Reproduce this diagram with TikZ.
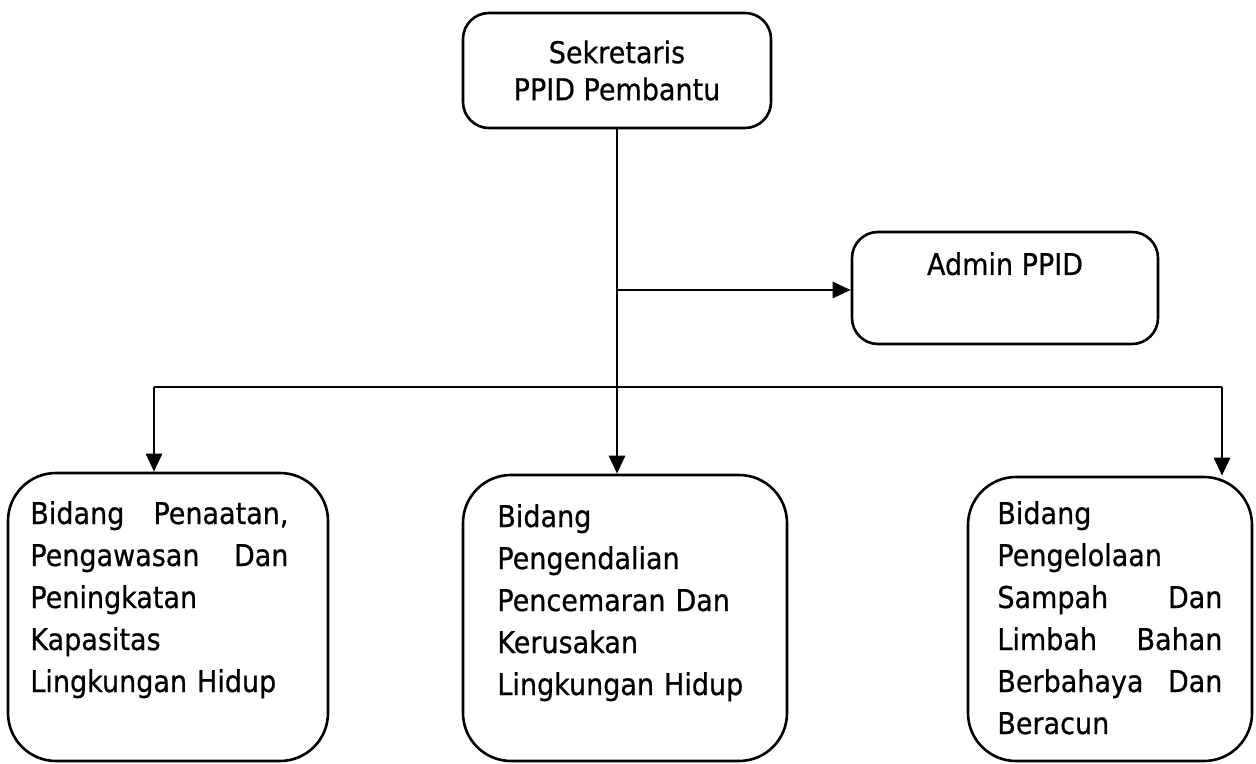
\documentclass[tikz,border=0pt]{standalone}
\usepackage{fontspec}
\setmainfont{DejaVu Sans}[FakeStretch=0.9,FakeBold=0.6]
\usetikzlibrary{arrows.meta}
\newcommand\jline[2]{\makebox[#1][l]{#2}}
\begin{document}
\begin{tikzpicture}[x=0.5pt,y=-0.5pt,
  box/.style={draw,line width=1.3pt,rounded corners=#1,inner sep=0pt},
  box/.default=12pt,
  txt/.style={inner sep=0pt,align=left,font={\fontsize{15}{21}\selectfont}},
  conn/.style={line width=1.3pt},
  arr/.style={line width=1.3pt,-{Triangle[length=9pt,width=8pt]}}]
\useasboundingbox[fill=white] (0,0) rectangle (1256,764);
% boxes
\node[box=13pt,minimum width=154pt,minimum height=57.5pt,align=center,
      font={\fontsize{15}{18.5}\selectfont}] (top) at (617,70.5)
      {Sekretaris\\PPID Pembantu};
\node[box=13pt,minimum width=153pt,minimum height=56pt] (admin) at (1005,288) {};
\node[txt,anchor=base] (admintxt) at (1005,275) {Admin PPID};
\node[box=24pt,minimum width=160pt,minimum height=144pt] (left) at (168,617) {};
\node[box=24pt,minimum width=162pt,minimum height=143pt] (mid) at (625,618) {};
\node[box=24pt,minimum width=142pt,minimum height=142pt] (right) at (1110,619) {};
% texts
\node[txt,text width=129pt,anchor=base west] (lefttxt) at (30,524)
  {\jline{129pt}{Bidang\hfill Penaatan,}\\
   \jline{129pt}{Pengawasan\hfill Dan}\\
   Peningkatan\\Kapasitas\\Lingkungan Hidup};
\node[txt,text width=135pt,anchor=base west] (midtxt) at (497,527)
  {Bidang\\Pengendalian\\Pencemaran Dan\\Kerusakan\\Lingkungan Hidup};
\node[txt,text width=112.5pt,anchor=base west] (righttxt) at (997,524)
  {Bidang\\Pengelolaan\\
   \jline{112.5pt}{Sampah\hfill Dan}\\
   \jline{112.5pt}{Limbah\hfill Bahan}\\
   \jline{112.5pt}{Berbahaya\hfill Dan}\\
   Beracun};
% connectors
\coordinate (ja) at (617,290);
\coordinate (bl) at (154,387);
\coordinate (br) at (1222,387);
\draw[arr] (top.south) -- (top.south |- mid.north);
\draw[arr] (ja) -- (ja -| admin.west);
\draw[conn] (bl) -- (br);
\draw[arr] (bl) -- (bl |- left.north);
\draw[arr] (br) -- (br |- right.north);
\end{tikzpicture}
\end{document}
